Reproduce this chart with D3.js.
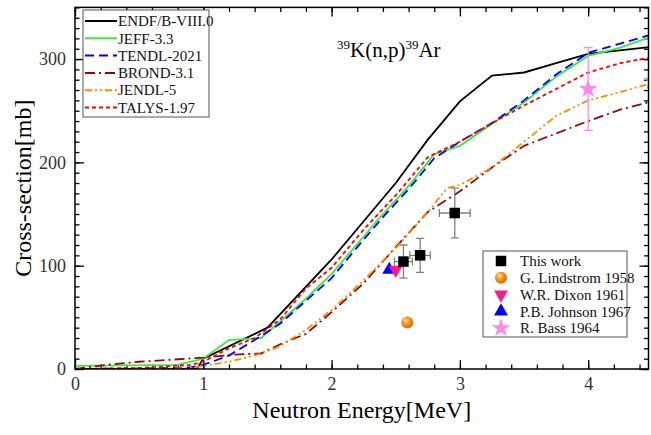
<!DOCTYPE html>
<html>
<head>
<meta charset="utf-8">
<script src="https://cdn.jsdelivr.net/npm/d3@7"></script>
<style>
body{margin:0;background:#fff;}
svg{display:block;font-family:"Liberation Serif","Times New Roman",serif;}
</style>
</head>
<body>
<div id="chart"></div>
<script>
// evaluated libraries, [energy MeV, cross-section mb]
const endf  = [[0,0],[0.95,0],[1.0,10],[1.5,40],[2.0,106],[2.25,143],[2.5,180],[2.75,222],[3.0,259],[3.25,284],[3.5,287],[3.75,296],[4.0,305],[4.5,312]];
const jeff  = [[0,3],[0.8,4],[1.0,10],[1.2,28],[1.45,30],[1.6,46],[1.8,68],[2.0,92],[2.2,121],[2.4,150],[2.6,177],[2.8,208],[3.0,216],[3.2,233],[3.5,258],[3.75,283],[4.0,303],[4.25,311],[4.5,322]];
const tendl = [[0,0],[0.5,0.5],[0.9,1.5],[1.0,4],[1.2,13],[1.4,28],[1.6,44],[1.8,66],[2.0,88],[2.2,118],[2.4,147],[2.6,174],[2.8,204],[3.0,220],[3.25,238],[3.5,260],[3.75,285],[4.0,306],[4.25,315],[4.5,324]];
const brond = [[0,0],[0.25,4],[0.5,7],[0.75,9],[1.0,11],[1.25,14],[1.45,15],[1.6,24],[1.8,34],[2.0,55],[2.25,83],[2.5,118],[2.75,152],[3.0,172],[3.25,195],[3.5,216],[3.75,228],[4.0,240],[4.25,251],[4.5,259]];
const jendl = [[0,0],[0.5,0],[0.9,1],[1.0,3],[1.2,7],[1.4,13],[1.6,22],[1.8,38],[2.0,57],[2.25,86],[2.5,117],[2.75,152],[2.9,175],[3.0,178],[3.25,195],[3.5,220],[3.75,245],[4.0,260],[4.25,268],[4.5,277]];
const talys = [[0,0],[0.5,1],[0.9,4],[1.0,7],[1.2,20],[1.4,30],[1.6,48],[1.8,78],[2.0,98],[2.25,135],[2.5,168],[2.75,205],[3.0,220],[3.25,238],[3.5,255],[3.75,271],[4.0,287],[4.25,296],[4.5,302]];

const libNames  = ["ENDF/B-VIII.0","JEFF-3.3","TENDL-2021","BROND-3.1","JENDL-5","TALYS-1.97"];
const libColors = ["#000000","#3ee83e","#0000ff","#8b0a0a","#ff8c00","#ff0000"];
const libDashes = [null,null,"9,5","10,4,2,4","7,3,2,3,2,3","4,3"];

// measurements
const workE = [2.56, 2.69, 2.96];
const workXS = [104, 110, 151];
const workDE = [0.07, 0.08, 0.12];
const workDXS = [16, 16.5, 24];

const lindstromE = [2.59], lindstromXS = [45];
const dixonE = [2.50], dixonXS = [96];
const johnsonE = [2.45], johnsonXS = [96];
const bassE = [4.0, 4.5], bassXS = [271, 279], bassDXS = [40, 40];

const expNames = ["This work","G. Lindstrom 1958","W.R. Dixon 1961","P.B. Johnson 1967","R. Bass 1964"];

const xTicks = [0,1,2,3,4];
const yTicks = [0,100,200,300];

let width = 651, height = 435;

let x = d3.scaleLinear().domain([0,4.47]).range([75,648.5]);
let y = d3.scaleLinear().domain([0,350]).range([369,7.4]);

let svg = d3.select("#chart").append("svg")
    .attr("width", width)
    .attr("height", height);

let defs = svg.append("defs");
defs.append("clipPath").attr("id","plotclip")
    .append("rect")
    .attr("x", x(0)).attr("y", y(350))
    .attr("width", x(4.47)-x(0)).attr("height", y(0)-y(350));

let grad = defs.append("radialGradient").attr("id","ball")
    .attr("cx","38%").attr("cy","35%").attr("r","65%");
grad.append("stop").attr("offset","0%").attr("stop-color","#ffe6b0");
grad.append("stop").attr("offset","40%").attr("stop-color","#ff9a1e");
grad.append("stop").attr("offset","100%").attr("stop-color","#d96a00");

// axes: major + minor ticks on all four sides, pointing inward
function tickAxis(axis, vals, len, labels){
    let a = axis.tickValues(vals).tickSize(-len).tickPadding(8);
    if(!labels) a.tickFormat("");
    return a;
}
let xMinor = d3.range(0, 4.47, 0.2);
let yMinor = d3.range(0, 351, 10);

let axes = svg.append("g").attr("class","axes");
axes.append("g").attr("transform","translate(0,"+y(0)+")").call(tickAxis(d3.axisBottom(x), xMinor, 4.5, false));
axes.append("g").attr("transform","translate(0,"+y(0)+")").call(tickAxis(d3.axisBottom(x), xTicks, 9, true).tickFormat(d3.format("d")));
axes.append("g").attr("transform","translate(0,"+y(350)+")").call(tickAxis(d3.axisTop(x), xMinor, 4.5, false));
axes.append("g").attr("transform","translate(0,"+y(350)+")").call(tickAxis(d3.axisTop(x), xTicks, 9, false));
axes.append("g").attr("transform","translate("+x(0)+",0)").call(tickAxis(d3.axisLeft(y), yMinor, 4.5, false));
axes.append("g").attr("transform","translate("+x(0)+",0)").call(tickAxis(d3.axisLeft(y), yTicks, 9, true).tickPadding(9));
axes.append("g").attr("transform","translate("+x(4.47)+",0)").call(tickAxis(d3.axisRight(y), yMinor, 4.5, false));
axes.append("g").attr("transform","translate("+x(4.47)+",0)").call(tickAxis(d3.axisRight(y), yTicks, 9, false));

axes.selectAll(".domain").remove();
axes.selectAll(".tick line").attr("stroke","#000").attr("stroke-width",1.3);
axes.selectAll(".tick text")
    .attr("font-family","Liberation Serif, serif")
    .attr("font-size",18)
    .attr("fill","#333");

// curves
let line = d3.line().x(d=>x(d[0])).y(d=>y(d[1]));
let libs = [endf, jeff, tendl, brond, jendl, talys];

let plot = svg.append("g").attr("clip-path","url(#plotclip)");

plot.selectAll(".lib")
    .data(libs)
    .enter()
    .append("path")
    .attr("class","lib")
    .attr("fill","none")
    .attr("stroke",(d,i)=>libColors[i])
    .attr("stroke-width",1.8)
    .attr("stroke-dasharray",(d,i)=>libDashes[i])
    .attr("d", d=>line(d));

// error bars
function errBar(g, x1, y1, x2, y2, color, cap, vertical){
    g.append("line").attr("x1",x1).attr("y1",y1).attr("x2",x2).attr("y2",y2)
        .attr("stroke",color).attr("stroke-width",1.3);
    [[x1,y1],[x2,y2]].forEach(p=>{
        if(vertical)
            g.append("line").attr("x1",p[0]-cap).attr("x2",p[0]+cap).attr("y1",p[1]).attr("y2",p[1])
                .attr("stroke",color).attr("stroke-width",1.3);
        else
            g.append("line").attr("x1",p[0]).attr("x2",p[0]).attr("y1",p[1]-cap).attr("y2",p[1]+cap)
                .attr("stroke",color).attr("stroke-width",1.3);
    });
}

let eb = plot.append("g");
workE.forEach((e,i)=>{
    errBar(eb, x(e), y(workXS[i]-workDXS[i]), x(e), y(workXS[i]+workDXS[i]), "#808080", 4, true);
    errBar(eb, x(e-workDE[i]), y(workXS[i]), x(e+workDE[i]), y(workXS[i]), "#808080", 4, false);
});
bassE.forEach((e,i)=>{
    errBar(eb, x(e), y(bassXS[i]-bassDXS[i]), x(e), y(bassXS[i]+bassDXS[i]), "#ff88f0", 4.5, true);
});

let squarePath = d3.symbol().type(d3.symbolSquare).size(110)();
let triPath = d3.symbol().type(d3.symbolTriangle).size(85)();
let starPath = d3.symbol().type(d3.symbolStar).size(110)();

plot.selectAll(".johnson").data(johnsonE).enter().append("path")
    .attr("d", triPath).attr("fill","#0000ff")
    .attr("transform",(d,i)=>"translate("+x(d)+","+y(johnsonXS[i])+")");
plot.selectAll(".dixon").data(dixonE).enter().append("path")
    .attr("d", triPath).attr("fill","#ff1a8c")
    .attr("transform",(d,i)=>"translate("+x(d)+","+y(dixonXS[i])+") rotate(180)");
plot.selectAll(".work").data(workE).enter().append("path")
    .attr("d", squarePath).attr("fill","#000")
    .attr("transform",(d,i)=>"translate("+x(d)+","+y(workXS[i])+")");
plot.selectAll(".lind").data(lindstromE).enter().append("circle")
    .attr("cx", d=>x(d)).attr("cy",(d,i)=>y(lindstromXS[i])).attr("r",6)
    .attr("fill","url(#ball)");
plot.selectAll(".bass").data(bassE).enter().append("path")
    .attr("d", starPath).attr("fill","#ff88f0")
    .attr("transform",(d,i)=>"translate("+x(d)+","+y(bassXS[i])+")");

// frame
svg.append("rect")
    .attr("x", x(0)).attr("y", y(350))
    .attr("width", x(4.47)-x(0)).attr("height", y(0)-y(350))
    .attr("fill","none").attr("stroke","#000").attr("stroke-width",1.5);

// library legend
let leg1 = svg.append("g");
leg1.append("rect").attr("x",83).attr("y",10).attr("width",126).attr("height",107)
    .attr("fill","#fff").attr("stroke","#555").attr("stroke-width",1);
libNames.forEach((n,i)=>{
    let yy = 21 + i*17.3;
    leg1.append("line").attr("x1",85).attr("x2",117).attr("y1",yy).attr("y2",yy)
        .attr("stroke",libColors[i]).attr("stroke-width",2)
        .attr("stroke-dasharray",libDashes[i]);
    leg1.append("text").attr("x",118).attr("y",yy).attr("dy","0.35em")
        .attr("font-size",15).attr("fill","#111").text(n);
});

// measurement legend
let leg2 = svg.append("g");
leg2.append("rect").attr("x",483).attr("y",251).attr("width",144).attr("height",86)
    .attr("fill","#fff").attr("stroke","#555").attr("stroke-width",1);
expNames.forEach((n,i)=>{
    let yy = 261 + i*16.8;
    leg2.append("text").attr("x",520).attr("y",yy).attr("dy","0.35em")
        .attr("font-size",15).attr("fill","#111").text(n);
});
let lx = 501;
leg2.append("path").attr("d",squarePath).attr("fill","#000").attr("transform","translate("+lx+",261)");
leg2.append("circle").attr("cx",lx).attr("cy",277.8).attr("r",6).attr("fill","url(#ball)");
leg2.append("path").attr("d",triPath).attr("fill","#ff1a8c").attr("transform","translate("+lx+",294.6) rotate(180)");
leg2.append("path").attr("d",triPath).attr("fill","#0000ff").attr("transform","translate("+lx+",311.4)");
leg2.append("path").attr("d",starPath).attr("fill","#ff88f0").attr("transform","translate("+lx+",328.2)");

// reaction label
let title = svg.append("text").attr("x",337).attr("y",57).attr("font-size",21).attr("fill","#000");
title.append("tspan").attr("font-size",13).attr("dy",-8).text("39");
title.append("tspan").attr("dy",8).text("K(n,p)");
title.append("tspan").attr("font-size",13).attr("dy",-8).text("39");
title.append("tspan").attr("dy",8).text("Ar");

// axis titles
svg.append("text").attr("x",(x(0)+x(4.47))/2).attr("y",418)
    .attr("text-anchor","middle").attr("font-size",24).attr("fill","#000")
    .text("Neutron Energy[MeV]");
svg.append("text")
    .attr("transform","translate(31,"+((y(0)+y(350))/2)+") rotate(-90)")
    .attr("text-anchor","middle").attr("font-size",24).attr("fill","#000")
    .text("Cross-section[mb]");
</script>
</body>
</html>
